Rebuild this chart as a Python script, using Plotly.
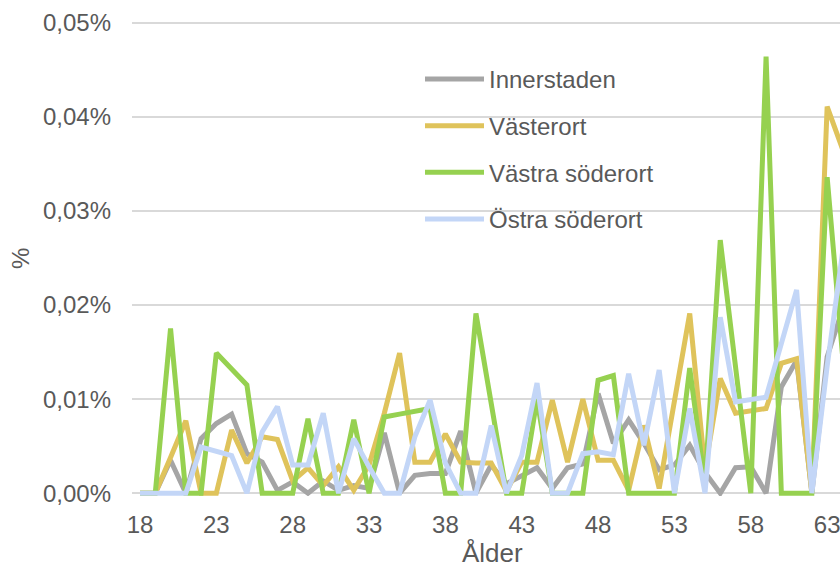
import plotly.graph_objects as go

ages = list(range(18, 65))

innerstaden = [0, 0, 0.0035, 0, 0.0058, 0.0074, 0.0084, 0.0042, 0.0033, 0.0003,
               0.0012, 0, 0.0013, 0.0003, 0.0008, 0.0005, 0.0064, 0, 0.0019, 0.0021,
               0.0021, 0.0066, 0, 0.0030, 0.0010, 0.0018, 0.0027, 0.0005, 0.0027, 0.0031,
               0.0106, 0.0053, 0.0078, 0.0053, 0.0025, 0.0030, 0.0051, 0.0022, 0, 0.0027,
               0.0028, 0, 0.0113, 0.0141, 0, 0.0145, 0.0195]

vasterort = [0, 0, 0.0038, 0.0077, 0, 0, 0.0067, 0.0032, 0.0060, 0.0057,
             0.0013, 0.0027, 0.0008, 0.0028, 0.0003, 0.0030, 0.0085, 0.0149, 0.0033, 0.0033,
             0.0063, 0.0033, 0.0032, 0.0032, 0.0002, 0.0033, 0.0033, 0.0099, 0.0033, 0.0100,
             0.0035, 0.0035, 0.0003, 0.0072, 0.0005, 0.0095, 0.0191, 0.0025, 0.0122, 0.0085,
             0.0088, 0.0090, 0.0138, 0.0143, 0, 0.0411, 0.0366]

vastra_soderort = [0, 0, 0.0175, 0, 0, 0.0149, 0.0132, 0.0115, 0, 0,
                   0, 0.0079, 0, 0, 0.0078, 0, 0.0081, 0.0084, 0.0087, 0.0090,
                   0, 0, 0.0191, 0.0095, 0, 0, 0.0100, 0, 0, 0,
                   0.0120, 0.0125, 0, 0, 0, 0, 0.0133, 0.0010, 0.0269, 0.0130,
                   0, 0.0464, 0, 0, 0, 0.0336, 0.0148]

ostra_soderort = [0, 0, 0, 0, 0.0049, 0.0045, 0.0040, 0, 0.0065, 0.0092,
                  0.0030, 0.0030, 0.0085, 0, 0.0058, 0.0028, 0, 0, 0.0060, 0.0099,
                  0.0032, 0, 0, 0.0072, 0, 0.0040, 0.0117, 0, 0, 0.0042,
                  0.0044, 0.0041, 0.0127, 0.0051, 0.0131, 0, 0.0090, 0, 0.0187, 0.0097,
                  0.0099, 0.0102, 0.0159, 0.0216, 0, 0.0135, 0.0255]

series_names = ["Innerstaden", "Västerort", "Västra söderort", "Östra söderort"]
series_values = [innerstaden, vasterort, vastra_soderort, ostra_soderort]
colors = ["#A5A5A5", "#DFC35B", "#96D150", "#C3D6F7"]

x_tickvals = [18, 23, 28, 33, 38, 43, 48, 53, 58, 63]
y_tickvals = [0, 0.01, 0.02, 0.03, 0.04, 0.05]
y_ticktext = ["0,00%", "0,01%", "0,02%", "0,03%", "0,04%", "0,05%"]
x_title = "Ålder"
y_title = "%"

font_family = "Liberation Sans, Arial, sans-serif"
text_color = "#595959"

fig = go.Figure()
for name, vals, col in zip(series_names, series_values, colors):
    fig.add_trace(go.Scatter(
        x=ages, y=vals, mode="lines", name=name, legendgroup=name,
        line=dict(color=col, width=5),
    ))

W, H = 840, 569
ml, mr, mt, mb = 132, 0, 20.2, 73.2
plot_w = W - ml - mr
plot_h = H - mt - mb
px_per_year = 15.27

fig.update_layout(
    width=W, height=H,
    margin=dict(l=ml, r=mr, t=mt, b=mb, pad=0, autoexpand=False),
    paper_bgcolor="white", plot_bgcolor="white",
    font=dict(family=font_family, size=24, color=text_color),
    showlegend=True,
    legend=dict(
        x=(420 - ml) / plot_w, y=1 - (57 - mt) / plot_h, xanchor="left", yanchor="top",
        bgcolor="rgba(0,0,0,0)", font=dict(size=24, color=text_color),
        traceorder="grouped", tracegroupgap=12.5, itemwidth=59,
    ),
    xaxis=dict(
        range=[17.476, 17.476 + plot_w / px_per_year],
        tickvals=x_tickvals, ticktext=[str(v) for v in x_tickvals],
        showgrid=False, zeroline=False, showline=False, ticks="", automargin=False,
        tickfont=dict(size=24, color=text_color), ticklabelstandoff=12,
        ticklabeloverflow="allow",
    ),
    yaxis=dict(
        range=[-0.0003, 0.0503], tickvals=y_tickvals, ticktext=y_ticktext,
        showgrid=True, gridcolor="#D9D9D9", gridwidth=1.5,
        zeroline=False, showline=False, ticks="", automargin=False,
        tickfont=dict(size=24, color=text_color), ticklabelstandoff=20,
    ),
    annotations=[
        dict(text=x_title, xref="paper", yref="paper",
             x=(492 - ml) / plot_w, y=-(553 - (mt + plot_h)) / plot_h,
             xanchor="center", yanchor="middle", showarrow=False,
             font=dict(size=26, color=text_color)),
        dict(text=y_title, xref="paper", yref="paper",
             x=-(ml - 20) / plot_w, y=(mt + plot_h - 258) / plot_h,
             xanchor="center", yanchor="middle", showarrow=False, textangle=-90,
             font=dict(size=24, color=text_color)),
    ],
)

fig.write_html(
    "out.html",
    config={"displayModeBar": False},
    post_script="document.body.style.margin='0';document.body.style.overflow='hidden';",
)
